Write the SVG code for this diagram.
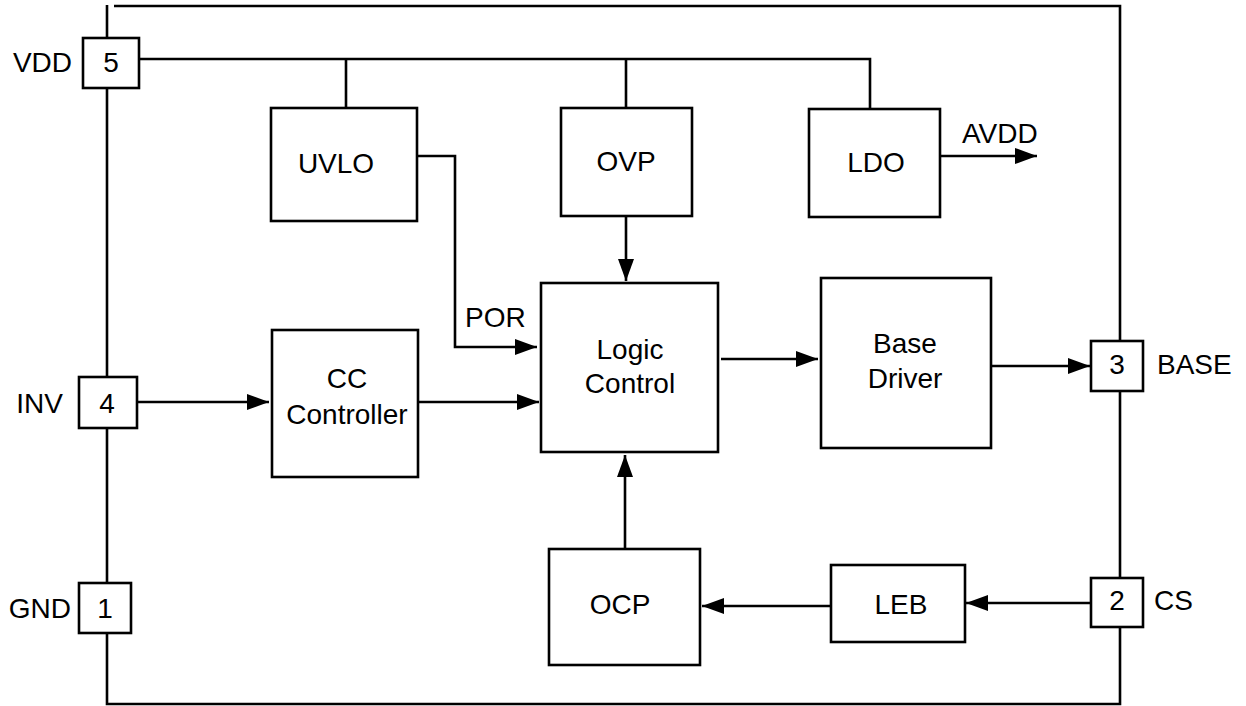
<svg xmlns="http://www.w3.org/2000/svg" width="1246" height="706" viewBox="0 0 1246 706">
<defs>
<marker id="arr" markerUnits="userSpaceOnUse" markerWidth="24" markerHeight="16" refX="22" refY="8" orient="auto">
<path d="M0,0 L22,8 L0,16 Z" fill="#000"/>
</marker>
<style>
.b{fill:#fff;stroke:#000;stroke-width:2.6}
.w{fill:none;stroke:#000;stroke-width:2.6}
.t{font-family:"Liberation Sans",Arial,sans-serif;font-size:28px;fill:#000}
.m{text-anchor:middle}
.e{text-anchor:end}
</style>
</defs>
<rect width="1246" height="706" fill="#fff"/>
<g id="connectors">
<path class="w" d="M107,5 V704 H1120 V6 H114"/>
<path class="w" d="M139,59 H870 V109 M346,59 V108 M626,59 V108"/>
<path class="w" d="M417,156 H455 V347 H537" marker-end="url(#arr)"/>
<path class="w" d="M626,216 V281" marker-end="url(#arr)"/>
<path class="w" d="M940,156 H1037" marker-end="url(#arr)"/>
<path class="w" d="M137,402 H269" marker-end="url(#arr)"/>
<path class="w" d="M418,402 H539" marker-end="url(#arr)"/>
<path class="w" d="M721,359 H818" marker-end="url(#arr)"/>
<path class="w" d="M991,366 H1090" marker-end="url(#arr)"/>
<path class="w" d="M625,549 V455" marker-end="url(#arr)"/>
<path class="w" d="M831,606 H702" marker-end="url(#arr)"/>
<path class="w" d="M1091,603 H966" marker-end="url(#arr)"/>
</g>
<g id="pin5"><rect class="b" x="83" y="38" width="56" height="50"/><text class="t m" x="111" y="72">5</text><text class="t e" x="72" y="72">VDD</text></g>
<g id="pin4"><rect class="b" x="79" y="377" width="58" height="51"/><text class="t m" x="107" y="413">4</text><text class="t e" x="63" y="413">INV</text></g>
<g id="pin1"><rect class="b" x="79" y="583" width="52" height="50"/><text class="t m" x="105" y="618">1</text><text class="t e" x="71" y="618">GND</text></g>
<g id="pin3"><rect class="b" x="1091" y="341" width="52" height="50"/><text class="t m" x="1117" y="374">3</text><text class="t" x="1157" y="374">BASE</text></g>
<g id="pin2"><rect class="b" x="1091" y="578" width="52" height="49"/><text class="t m" x="1117" y="610">2</text><text class="t" x="1154" y="610">CS</text></g>
<g id="uvlo"><rect class="b" x="271" y="108" width="146" height="113"/><text class="t m" x="336" y="173">UVLO</text></g>
<g id="ovp"><rect class="b" x="561" y="108" width="131" height="108"/><text class="t m" x="626" y="171">OVP</text></g>
<g id="ldo"><rect class="b" x="809" y="109" width="131" height="108"/><text class="t m" x="876" y="172">LDO</text></g>
<g id="avdd"><text class="t" x="962" y="143">AVDD</text></g>
<g id="por"><text class="t" x="465" y="327">POR</text></g>
<g id="logic"><rect class="b" x="541" y="283" width="177" height="169"/><text class="t m" x="630" y="359">Logic</text><text class="t m" x="630" y="393">Control</text></g>
<g id="cc"><rect class="b" x="272" y="330" width="146" height="147"/><text class="t m" x="347" y="388">CC</text><text class="t m" x="347" y="424">Controller</text></g>
<g id="base"><rect class="b" x="821" y="278" width="170" height="170"/><text class="t m" x="905" y="353">Base</text><text class="t m" x="905" y="388">Driver</text></g>
<g id="ocp"><rect class="b" x="549" y="549" width="151" height="116"/><text class="t m" x="620" y="614">OCP</text></g>
<g id="leb"><rect class="b" x="831" y="565" width="134" height="77"/><text class="t m" x="901" y="614">LEB</text></g>
</svg>
